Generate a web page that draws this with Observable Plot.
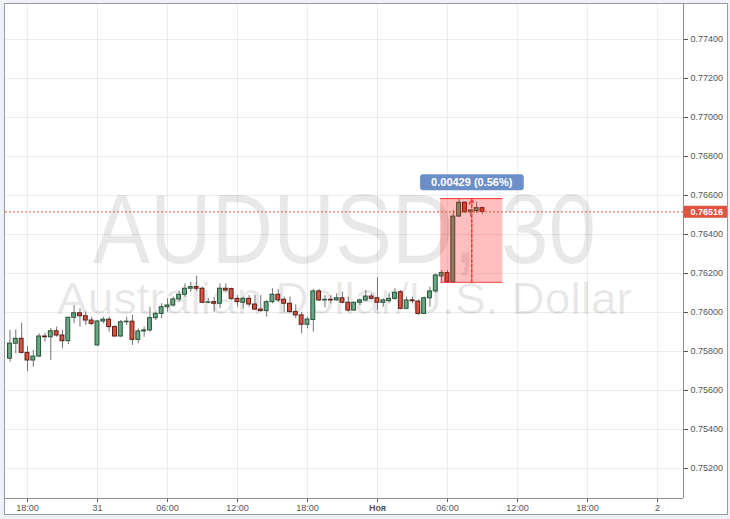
<!DOCTYPE html>
<html><head><meta charset="utf-8">
<script src="https://cdn.jsdelivr.net/npm/d3@7"></script>
<script src="https://cdn.jsdelivr.net/npm/@observablehq/plot@0.6"></script>
<style>
html,body{margin:0;padding:0;background:#eef2f6;width:730px;height:519px;overflow:hidden;}
#wrap{position:absolute;left:4px;top:3px;width:722px;height:510px;border:1px solid #9a9a9a;background:#fff;}
</style></head>
<body><div id="wrap"></div>
<script>
// ---- data (AUDUSD, 30-minute candles) ----
const firstCandle = "2016-10-30T16:30:00Z";
const candleMinutes = 30;
const open = [
0.75763,0.75840,0.75865,0.75793,0.75754,0.75774,0.75877,0.75873,0.75904,0.75882,
0.75853,0.75973,0.75996,0.75981,0.75959,0.75831,0.75954,0.75963,0.75925,0.75877,
0.75950,0.75953,0.75860,0.75903,0.75908,0.75971,0.75993,0.76027,0.76036,0.76067,
0.76091,0.76122,0.76130,0.76122,0.76050,0.76053,0.76045,0.76122,0.76120,0.76070,
0.76050,0.76070,0.76041,0.76015,0.76007,0.76053,0.76091,0.76065,0.76045,0.76002,
0.75985,0.75937,0.75962,0.76108,0.76062,0.76065,0.76062,0.76073,0.76050,0.76010,
0.76050,0.76062,0.76082,0.76073,0.76050,0.76058,0.76070,0.76104,0.76019,0.76062,
0.76056,0.75993,0.76073,0.76108,0.76185,0.76202,0.76155,0.76492,0.76563,0.76514,
0.76520,0.76535];
const high = [
0.75908,0.75911,0.75945,0.75826,0.75805,0.75891,0.75892,0.75918,0.75925,0.75908,
0.75976,0.76036,0.76019,0.76002,0.75976,0.75959,0.75976,0.75976,0.75933,0.75959,
0.75976,0.75985,0.75916,0.75925,0.76027,0.76002,0.76045,0.76070,0.76079,0.76108,
0.76147,0.76155,0.76186,0.76130,0.76072,0.76079,0.76147,0.76147,0.76125,0.76087,
0.76079,0.76087,0.76087,0.76087,0.76062,0.76122,0.76118,0.76079,0.76079,0.76040,
0.76002,0.75976,0.76118,0.76118,0.76087,0.76087,0.76096,0.76104,0.76079,0.76053,
0.76070,0.76113,0.76096,0.76178,0.76070,0.76096,0.76122,0.76113,0.76079,0.76079,
0.76065,0.76079,0.76130,0.76198,0.76215,0.76215,0.76523,0.76582,0.76566,0.76527,
0.76566,0.76540];
const low = [
0.75745,0.75788,0.75788,0.75697,0.75720,0.75768,0.75848,0.75754,0.75873,0.75814,
0.75836,0.75942,0.75925,0.75933,0.75933,0.75826,0.75942,0.75899,0.75873,0.75873,
0.75933,0.75831,0.75840,0.75873,0.75899,0.75959,0.75968,0.76002,0.76027,0.76053,
0.76079,0.76104,0.76108,0.76045,0.76045,0.76002,0.76019,0.76104,0.76062,0.76027,
0.76019,0.76027,0.76010,0.76002,0.75976,0.76045,0.76050,0.76002,0.75999,0.75968,
0.75891,0.75916,0.75899,0.76056,0.76024,0.76045,0.76058,0.76045,0.76002,0.76007,
0.76036,0.76053,0.76065,0.76010,0.76027,0.76045,0.76062,0.76014,0.76014,0.76045,
0.75985,0.75990,0.76027,0.76099,0.76155,0.76150,0.76147,0.76489,0.76509,0.76489,
0.76509,0.76503];
const close = [
0.75840,0.75865,0.75793,0.75754,0.75774,0.75877,0.75873,0.75904,0.75882,0.75853,
0.75973,0.75996,0.75981,0.75959,0.75942,0.75954,0.75963,0.75925,0.75877,0.75950,
0.75953,0.75860,0.75903,0.75908,0.75971,0.75993,0.76027,0.76036,0.76067,0.76091,
0.76122,0.76130,0.76122,0.76050,0.76052,0.76045,0.76122,0.76113,0.76070,0.76053,
0.76070,0.76041,0.76015,0.76007,0.76053,0.76091,0.76062,0.76045,0.76002,0.75985,
0.75937,0.75964,0.76108,0.76062,0.76065,0.76062,0.76073,0.76050,0.76010,0.76050,
0.76062,0.76082,0.76070,0.76050,0.76062,0.76070,0.76101,0.76019,0.76062,0.76058,
0.75993,0.76073,0.76108,0.76190,0.76202,0.76155,0.76492,0.76563,0.76514,0.76523,
0.76535,0.76516];

// x axis ticks and labels
const xTickTimes = ["2016-10-30T18:00Z","2016-10-31T00:00Z","2016-10-31T06:00Z","2016-10-31T12:00Z","2016-10-31T18:00Z",
  "2016-11-01T00:00Z","2016-11-01T06:00Z","2016-11-01T12:00Z","2016-11-01T18:00Z","2016-11-02T00:00Z"];
const xTickLabels = ["18:00","31","06:00","12:00","18:00","Ноя","06:00","12:00","18:00","2"];
// y axis ticks
const yTicks = [0.752,0.754,0.756,0.758,0.760,0.762,0.764,0.766,0.768,0.770,0.772,0.774];

// watermark
const watermarkLines = ["AUDUSD, 30", "Australian Dollar/U.S. Dollar"];

// price-range measurement
const measureStart = "2016-11-01T05:25Z";
const measureEnd = "2016-11-01T10:45Z";
const measureLow = 0.76155;
const measureHigh = 0.76584;

// ---- build ----
const colors = {upFill:"#6ba583", upStroke:"#225437", downFill:"#d75442", downStroke:"#5b1a13", wick:"#737375"};
const t0 = new Date(firstCandle).getTime();
const stepMs = candleMinutes * 60000;
const halfBody = 10 * 60000;
const candles = open.map((o, i) => {
  const t = new Date(t0 + i * stepMs);
  return {t, t1: new Date(+t - halfBody), t2: new Date(+t + halfBody), o, h: high[i], l: low[i], c: close[i], up: close[i] >= o};
});
const ups = candles.filter(d => d.up), downs = candles.filter(d => !d.up);
const xTicks = xTickTimes.map(s => new Date(s));
const labelByTime = new Map(xTicks.map((d, i) => [+d, xTickLabels[i]]));
const lastClose = close[close.length - 1];

const ms = new Date(measureStart), me = new Date(measureEnd);
const mid = new Date((+ms + +me) / 2);
const diff = measureHigh - measureLow;
const meas = [{x1: ms, x2: me, mid, low: measureLow, high: measureHigh,
  label: `${diff.toFixed(5)} (${(diff / measureLow * 100).toFixed(2)}%)`}];
const measLines = [{y: measureLow, x1: ms, x2: me}, {y: measureHigh, x1: ms, x2: me}];

const xDomain = [new Date("2016-10-30T16:07Z"), new Date("2016-11-02T02:14Z")];
const yDomain = [0.750462, 0.775795];
const font = "'Liberation Sans', Arial, sans-serif";

const chart = Plot.plot({
  width: 722, height: 510,
  marginLeft: 0, marginRight: 44, marginTop: 0, marginBottom: 16,
  style: {fontFamily: font, fontSize: "9px", color: "#555", background: "#fff"},
  x: {type: "utc", domain: xDomain, ticks: xTicks, tickFormat: d => labelByTime.get(+d) ?? "", tickSize: 4, tickPadding: 2, label: null},
  y: {domain: yDomain, axis: "right", ticks: yTicks, tickFormat: d => d.toFixed(5), tickSize: 4, tickPadding: 3, label: null},
  marks: [
    Plot.text([watermarkLines[0]], {text: d => d, frameAnchor: "middle", dy: -20, fontSize: 98, fill: "#000", fillOpacity: 0.09}),
    Plot.text([watermarkLines[1]], {text: d => d, frameAnchor: "middle", dy: 48, fontSize: 44, fill: "#000", fillOpacity: 0.09}),
    Plot.ruleY(yTicks, {stroke: "#000", strokeOpacity: 0.075}),
    Plot.ruleX(xTicks, {stroke: "#000", strokeOpacity: 0.075}),
    Plot.ruleX(candles, {x: "t", y1: "l", y2: "h", stroke: colors.wick}),
    Plot.rect(ups, {x1: "t1", x2: "t2", y1: "o", y2: "c", fill: colors.upFill, stroke: colors.upStroke, strokeWidth: 1}),
    Plot.rect(downs, {x1: "t1", x2: "t2", y1: "o", y2: "c", fill: colors.downFill, stroke: colors.downStroke, strokeWidth: 1}),
    Plot.rect(meas, {x1: "x1", x2: "x2", y1: "low", y2: "high", fill: "#ff0000", fillOpacity: 0.25}),
    Plot.ruleY(measLines, {y: "y", x1: "x1", x2: "x2", stroke: "#ff3030"}),
    Plot.arrow(meas, {x1: "mid", x2: "mid", y1: "low", y2: "high", stroke: "#ff3030", strokeDasharray: "3,2", headLength: 5, insetEnd: 1}),
    Plot.ruleY([lastClose], {stroke: "#e0533f", strokeDasharray: "2,2"}),
    Plot.ruleX([xDomain[1]], {stroke: "#8c8c8c"}),
    Plot.ruleY([yDomain[0]], {stroke: "#8c8c8c"}),
    Plot.text([lastClose], {y: d => d, text: d => d.toFixed(5), frameAnchor: "right", textAnchor: "start", dx: 7, fill: "#fff", fontWeight: "bold", fontSize: 9}),
    Plot.text(meas, {x: "mid", y: "high", text: "label", dy: -16, fill: "#fff", fontSize: 11, fontWeight: "bold"})
  ]
});
document.getElementById("wrap").appendChild(chart);

// ---- post-processing: label backgrounds, bold month label, watermark width ----
const svg = d3.select(chart);
const byText = s => svg.selectAll("text").filter(function () { return this.textContent === s; });
byText("Ноя").attr("font-weight", "bold");
byText(watermarkLines[0]).attr("textLength", 503).attr("lengthAdjust", "spacingAndGlyphs");
byText(watermarkLines[1]).attr("textLength", 575).attr("lengthAdjust", "spacingAndGlyphs");
function addBox(s, fill, fn) {
  byText(s).each(function () {
    const bb = this.getBBox();
    const r = document.createElementNS("http://www.w3.org/2000/svg", "rect");
    const box = fn(bb);
    r.setAttribute("x", box.x); r.setAttribute("y", box.y);
    r.setAttribute("width", box.w); r.setAttribute("height", box.h);
    if (box.rx) r.setAttribute("rx", box.rx);
    r.setAttribute("fill", fill);
    const tr = this.getAttribute("transform");
    if (tr) r.setAttribute("transform", tr);
    this.parentNode.insertBefore(r, this);
  });
}
addBox(lastClose.toFixed(5), "#e0533f", bb => ({x: bb.x - 7, y: bb.y - 1, w: 44, h: bb.height + 2}));
addBox(meas[0].label, "#6b8fc6", bb => ({x: bb.x - 11, y: bb.y - 2, w: bb.width + 22, h: bb.height + 4, rx: 3}));
</script>
</body></html>
